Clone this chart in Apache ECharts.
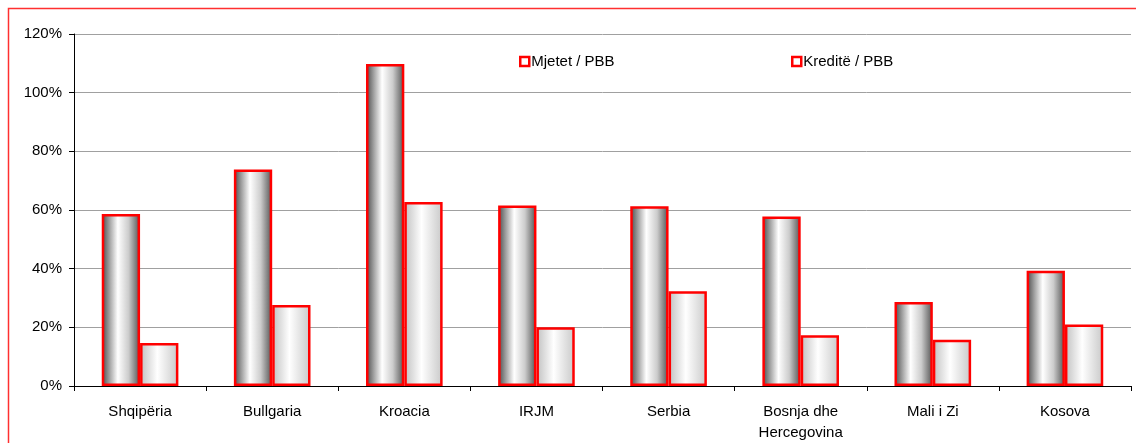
<!DOCTYPE html>
<html>
<head>
<meta charset="utf-8">
<script src="https://cdn.jsdelivr.net/npm/echarts@6/dist/echarts.min.js"></script>
<style>
  html, body { margin: 0; padding: 0; background: #fff; }
  #chart { width: 1136px; height: 443px; }
</style>
</head>
<body>
<div id="chart"></div>
<script>
var categories = ['Shqipëria', 'Bullgaria', 'Kroacia', 'IRJM', 'Serbia', 'Bosnja dhe\nHercegovina', 'Mali i Zi', 'Kosova'];
var mjetet = [58.6, 73.8, 109.8, 61.5, 61.3, 57.8, 28.6, 39.3];
var kredite = [14.7, 27.6, 62.7, 20.0, 32.3, 17.3, 15.8, 21.0];
var yTicks = [0, 20, 40, 60, 80, 100, 120];

var chart = echarts.init(document.getElementById('chart'));

// cylinder-like shading
var darkFill = new echarts.graphic.LinearGradient(0, 0, 1, 0, [
    {offset: 0, color: '#474747'},
    {offset: 0.2, color: '#a0a0a0'},
    {offset: 0.42, color: '#ffffff'},
    {offset: 0.7, color: '#cccccc'},
    {offset: 1, color: '#505050'}
]);
var lightFill = new echarts.graphic.LinearGradient(0, 0, 1, 0, [
    {offset: 0, color: '#c0c0c0'},
    {offset: 0.45, color: '#ffffff'},
    {offset: 1, color: '#c8c8c8'}
]);

var font = 'Liberation Sans, Arial, sans-serif';
var legendText = {fontSize: 15, color: '#000', fontFamily: font, padding: [0, 0, 0, -3]};

chart.setOption({
    animation: false,
    textStyle: {fontFamily: font},
    graphic: [{
        type: 'rect',
        shape: {x: 8.5, y: 8.5, width: 1300, height: 600},
        style: {fill: 'none', stroke: '#ff3030', lineWidth: 1.5},
        silent: true
    }],
    legend: [{
        data: ['Mjetet / PBB'],
        left: 514, top: 49,
        icon: 'rect', itemWidth: 9, itemHeight: 9, itemGap: 4,
        itemStyle: {color: '#fff', borderColor: '#ff0000', borderWidth: 2.5},
        textStyle: legendText
    }, {
        data: ['Kreditë / PBB'],
        left: 786, top: 49,
        icon: 'rect', itemWidth: 9, itemHeight: 9, itemGap: 4,
        itemStyle: {color: '#fff', borderColor: '#ff0000', borderWidth: 2.5},
        textStyle: legendText
    }],
    grid: {left: 74, top: 34, right: 5, bottom: 57, containLabel: false},
    xAxis: {
        type: 'category',
        data: categories,
        axisLine: {lineStyle: {color: '#000', width: 1}},
        axisTick: {show: true, alignWithLabel: false, length: 5, lineStyle: {color: '#000'}},
        axisLabel: {color: '#000', fontSize: 15, margin: 15, lineHeight: 21, fontFamily: font, interval: 0}
    },
    yAxis: {
        type: 'value',
        min: yTicks[0],
        max: yTicks[yTicks.length - 1],
        interval: 20,
        axisLine: {show: true, lineStyle: {color: '#000'}},
        axisTick: {show: true, length: 5, lineStyle: {color: '#000'}},
        axisLabel: {color: '#000', fontSize: 15, margin: 12, formatter: '{value}%', fontFamily: font},
        splitLine: {lineStyle: {color: '#a0a0a0', width: 1}}
    },
    series: [{
        name: 'Mjetet / PBB',
        type: 'bar',
        data: mjetet,
        barGap: '0%',
        barCategoryGap: '42%',
        itemStyle: {color: darkFill, borderColor: '#ff0000', borderWidth: 2.5},
        emphasis: {disabled: true}
    }, {
        name: 'Kreditë / PBB',
        type: 'bar',
        data: kredite,
        barGap: '0%',
        barCategoryGap: '42%',
        itemStyle: {color: lightFill, borderColor: '#ff0000', borderWidth: 2.5},
        emphasis: {disabled: true}
    }]
});
</script>
</body>
</html>
